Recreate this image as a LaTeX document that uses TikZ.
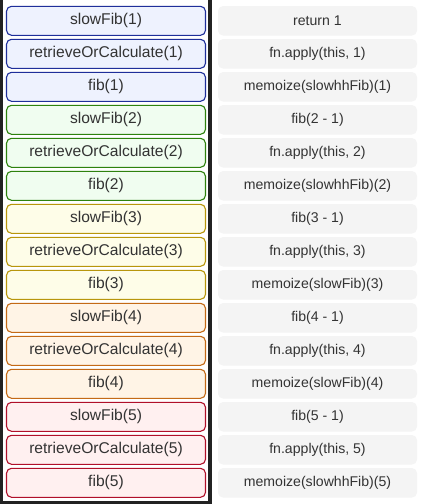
\documentclass[tikz,border=0pt]{standalone}
\usepackage{fontspec}
\setmainfont{Liberation Sans}
\begin{document}
\definecolor{frame}{HTML}{222222}
\definecolor{txt}{HTML}{333333}
\definecolor{bdA}{HTML}{1F2F9A}\definecolor{bgA}{HTML}{EEF2FE}
\definecolor{bdB}{HTML}{2E820E}\definecolor{bgB}{HTML}{F0FDF0}
\definecolor{bdC}{HTML}{B8960C}\definecolor{bgC}{HTML}{FEFDE8}
\definecolor{bdD}{HTML}{C46A16}\definecolor{bgD}{HTML}{FFF4E6}
\definecolor{bdE}{HTML}{B0102A}\definecolor{bgE}{HTML}{FFF0F0}
\definecolor{codebg}{HTML}{F4F4F4}
\begin{tikzpicture}[x=1pt,y=-1pt,
  callbox/.style={draw, line width=1.1pt, rounded corners=5pt,
    minimum width=199pt, minimum height=29pt, inner sep=0pt,
    text=txt, font=\fontsize{15.6}{18}\selectfont},
  codebox/.style={fill=codebg, rounded corners=5pt,
    minimum width=199pt, minimum height=29.5pt, inner sep=0pt,
    text=txt, font=\fontsize{14.1}{17}\selectfont}]
  \useasboundingbox (0,0) rectangle (424,504);
  \fill[white] (0,0) rectangle (424,504);
  % stack frame panel
  \fill[frame] (0,-2) rectangle (211.7,504);
  \fill[white] (3.3,-2) rectangle (208.3,500.7);
  % call rows
  \foreach \n/\bd/\bg/\ra/\rb/\rc [count=\g from 0] in {
      1/bdA/bgA/{return 1}/{fn.apply(this, 1)}/{memoize(slowhhFib)(1)},
      2/bdB/bgB/{fib(2 - 1)}/{fn.apply(this, 2)}/{memoize(slowhhFib)(2)},
      3/bdC/bgC/{fib(3 - 1)}/{fn.apply(this, 3)}/{memoize(slowFib)(3)},
      4/bdD/bgD/{fib(4 - 1)}/{fn.apply(this, 4)}/{memoize(slowFib)(4)},
      5/bdE/bgE/{fib(5 - 1)}/{fn.apply(this, 5)}/{memoize(slowhhFib)(5)}}{
    \pgfmathsetmacro{\ya}{20.8+99*\g}
    \pgfmathsetmacro{\yb}{\ya+33}
    \pgfmathsetmacro{\yc}{\ya+66}
    \node[callbox, draw=\bd, fill=\bg] (slow\n) at (106,\ya) {slowFib(\n)};
    \node[callbox, draw=\bd, fill=\bg] (roc\n) at (106,\yb) {retrieveOrCalculate(\n)};
    \node[callbox, draw=\bd, fill=\bg] (fib\n) at (106,\yc) {fib(\n)};
    \node[codebox] (codeA\n) at (317.5,\ya) {\ra};
    \node[codebox] (codeB\n) at (317.5,\yb) {\rb};
    \node[codebox] (codeC\n) at (317.5,\yc) {\rc};
  }
\end{tikzpicture}
\end{document}
